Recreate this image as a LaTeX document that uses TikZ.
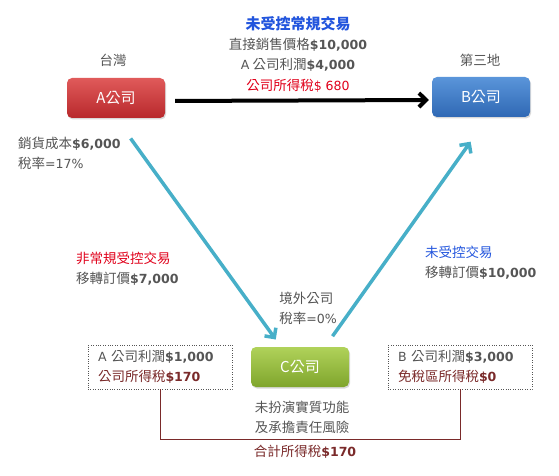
\documentclass[tikz,border=0pt]{standalone}
\usepackage{fontspec}
\setmainfont{Noto Sans CJK TC}
\newfontfamily\numfont[Scale=0.93]{DejaVu Sans}
\newcommand{\amt}[1]{{\numfont #1}}
\newcommand{\bamt}[1]{{\numfont\bfseries #1}}
\definecolor{FirmRed}{HTML}{B8292C}
\definecolor{FirmRedTop}{HTML}{E05A5A}
\definecolor{FirmBlue}{HTML}{2F68B4}
\definecolor{FirmBlueTop}{HTML}{5A95DA}
\definecolor{FirmGreen}{HTML}{7FA52C}
\definecolor{FirmGreenTop}{HTML}{B0D25A}
\definecolor{FlowTeal}{HTML}{47AFC8}
\definecolor{TextGray}{HTML}{555555}
\definecolor{TitleBlue}{HTML}{2255DD}
\definecolor{AlertRed}{HTML}{E0001A}
\definecolor{TaxBrown}{HTML}{7A2A2A}
\usetikzlibrary{arrows.meta, positioning, calc, shadows}
\tikzset{
  firm/.style={rounded corners=5pt, minimum width=98pt, minimum height=40pt, text=white, font=\fontsize{15}{17}\selectfont, drop shadow={shadow xshift=1pt, shadow yshift=-1.5pt, opacity=0.3}},
  redfirm/.style={firm, top color=FirmRedTop, bottom color=FirmRed},
  bluefirm/.style={firm, top color=FirmBlueTop, bottom color=FirmBlue},
  greenfirm/.style={firm, top color=FirmGreenTop, bottom color=FirmGreen},
  note/.style={font=\fontsize{13.5}{20}\selectfont, text=TextGray, inner sep=1pt},
  taxbox/.style={draw=TextGray, dotted, minimum width=144pt, minimum height=44pt, text width=124pt, inner xsep=10pt, align=left, font=\fontsize{13.5}{20}\selectfont, text=TextGray},
  flow/.style={-{Straight Barb[length=7pt, width=14pt]}, line width=3.5pt, draw=FlowTeal},
  sale/.style={-{Straight Barb[length=7pt, width=14pt]}, line width=4pt, draw=black}
}

\begin{document}
\begin{tikzpicture}[x=1pt, y=-1pt]
\useasboundingbox (0,0) rectangle (559,476);

\node[redfirm] (A) at (116,98) {A公司};
\node[bluefirm] (B) at (481,97) {B公司};
\node[greenfirm] (C) at (300,367) {C公司};

\node[note] (twn) at (113,60) {台灣};
\node[note] (third) at (480,60) {第三地};

\node[note, font=\fontsize{15}{17}\selectfont\bfseries, text=TitleBlue] (route) at (298,24) {未受控常規交易};
\node[note] (price) at (298,45) {直接銷售價格\bamt{\$10,000}};
\node[note] (profit) at (298,65) {\amt{A} 公司利潤\bamt{\$4,000}};
\node[note, text=AlertRed] (tax) at (298,86) {公司所得稅\amt{\$ 680}};

\node[note, anchor=west, align=left] (cost) at (17,153) {銷貨成本\bamt{\$6,000}\\稅率\amt{=17\%}};
\node[note, anchor=west, align=left] (ctrl) at (75,269) {\textcolor{AlertRed}{非常規受控交易}\\移轉訂價\bamt{\$7,000}};
\node[note, anchor=west, align=left] (unctrl) at (424,263) {\textcolor{TitleBlue}{未受控交易}\\移轉訂價\bamt{\$10,000}};
\node[note, align=left] (offshore) at (308,308) {境外公司\\稅率\amt{=0\%}};
\node[note, align=center] (role) at (302,417) {未扮演實質功能\\及承擔責任風險};

\node[taxbox] (taxA) at (160,367) {\amt{A} 公司利潤\bamt{\$1,000}\\\textcolor{TaxBrown}{公司所得稅\bamt{\$170}}};
\node[taxbox] (taxB) at (460,367) {\amt{B} 公司利潤\bamt{\$3,000}\\\textcolor{TaxBrown}{免稅區所得稅\bamt{\$0}}};

\node[note, text=TaxBrown] (total) at (305,452) {合計所得稅\bamt{\$170}};

\coordinate (Cin) at ($(C.north)+(-19,0)$);
\coordinate (Cout) at ($(C.north)+(25,0)$);
\coordinate (Bin) at ($(B.south)+(7,0)$);

\draw[sale, shorten <=10pt, shorten >=3pt] ([yshift=-3pt]A.east) -- ([yshift=-3pt]B.west);
\draw[flow, shorten <=25pt, shorten >=9pt] (A.south) -- (Cin);
\draw[flow, shorten <=13pt, shorten >=30pt] (Cout) -- (Bin);
\draw[TaxBrown, line width=0.8pt] (taxA.south) -- ++(0,50) -| (taxB.south);
\end{tikzpicture}
\end{document}
